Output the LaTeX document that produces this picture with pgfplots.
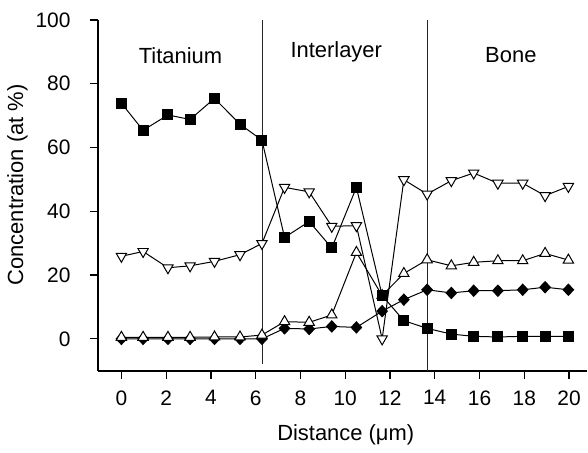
\documentclass[border=0pt]{standalone}
\usepackage{pgfplots}
\pgfplotsset{compat=1.18}
\usepackage{fontspec}
\setmainfont{Liberation Sans}
\begin{document}
\fontsize{11}{13}\selectfont
\begin{tikzpicture}
\begin{axis}[
  scale only axis,
  width=245pt, height=176pt,
  xmin=-1.04, xmax=20.78, ymin=-10, ymax=100,
  axis lines=left,
  axis line style={line width=0.9pt, -},
  tick style={line width=0.6pt, black},
  tick align=outside,
  major tick length=4pt,
  xtick={0,2,...,20}, ytick={0,20,...,100},
  /pgf/number format/assume math mode=true,
  tick label style={font=\fontsize{10.5}{12}\selectfont},
  xticklabel style={yshift=-2pt},
  yticklabel style={xshift=-6pt},
  clip=false,
  every axis plot/.append style={line width=0.5pt, black},
]
% region separators
\addplot[no marks, line width=0.4pt, black!85] coordinates {(6.31,-8) (6.31,100)};
\addplot[no marks, line width=0.4pt, black!85] coordinates {(13.65,-10) (13.65,100)};
% diamonds (filled)
\addplot[mark=diamond*, mark size=2.8pt, mark options={fill=black, xscale=1.25}] coordinates {
(0,0) (0.97,0) (2.08,0) (3.07,0) (4.16,0) (5.3,0) (6.28,0)
(7.29,3.3) (8.39,3.1) (9.4,3.9) (10.5,3.6) (11.65,8.7) (12.62,12.3) (13.66,15.4)
(14.74,14.4) (15.74,15.1) (16.82,15.1) (17.93,15.4) (18.93,16.2) (19.97,15.4)};
% up triangles (open)
\addplot[mark=triangle*, mark size=3pt, mark options={fill=white}] coordinates {
(0,0.5) (0.97,0.5) (2.08,0.5) (3.07,0.5) (4.16,0.6) (5.3,0.6) (6.28,1.2)
(7.29,5.4) (8.39,5.2) (9.4,7.5) (10.5,27.1) (11.65,13.6) (12.62,20.5) (13.66,24.8)
(14.74,22.9) (15.74,24.0) (16.82,24.5) (17.93,24.5) (18.93,26.8) (19.97,24.7)};
% down triangles (open)
\addplot[mark=triangle*, mark size=3pt, mark options={fill=white, rotate=180}] coordinates {
(0,25.9) (0.97,27.4) (2.08,22.3) (3.07,22.9) (4.16,24.3) (5.3,26.4) (6.28,29.9)
(7.29,47.5) (8.39,46.1) (9.4,35.3) (10.5,35.5) (11.65,0) (12.62,49.9) (13.66,45.4)
(14.74,49.6) (15.74,52.0) (16.82,48.8) (17.93,48.8) (18.93,44.9) (19.97,47.8)};
% squares (filled)
\addplot[mark=square*, mark size=2.5pt, mark options={fill=black}] coordinates {
(0,73.9) (0.97,65.4) (2.08,70.2) (3.07,68.8) (4.16,75.4) (5.3,67.3) (6.28,62.3)
(7.29,31.8) (8.39,36.8) (9.4,28.5) (10.5,47.5) (11.65,13.6) (12.62,5.7) (13.66,3.3)
(14.74,1.5) (15.74,0.8) (16.82,0.6) (17.93,0.8) (18.93,0.8) (19.97,0.8)};
\node at (axis cs:2.64,88.9) {Titanium};
\node at (axis cs:9.6,90) {Interlayer};
\node at (axis cs:17.4,88.9) {Bone};
\node[anchor=base] at (axis description cs:0.507,-0.198) {Distance (μm)};
\node[rotate=90, anchor=center] at (axis description cs:-0.165,0.53) {Concentration (at \%)};
\path (rel axis cs:-0.2,-0.2074) rectangle (rel axis cs:1.0,1.0568);
\end{axis}
\end{tikzpicture}
\end{document}
